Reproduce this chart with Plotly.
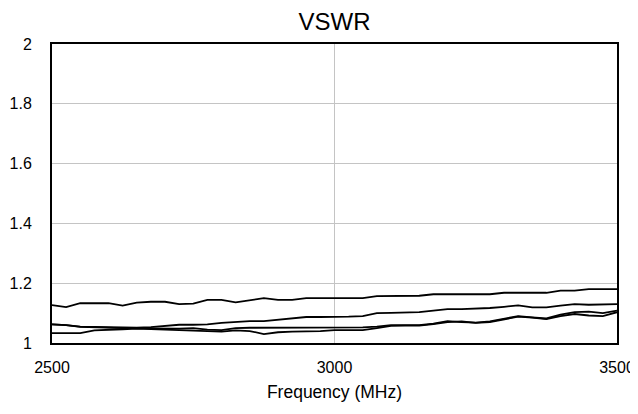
import plotly.graph_objects as go

freq = [2500 + 25 * i for i in range(41)]

vswr_a = [1.127, 1.120, 1.133, 1.133, 1.133, 1.125, 1.135, 1.138, 1.138, 1.130,
          1.132, 1.144, 1.144, 1.136, 1.142, 1.150, 1.144, 1.144, 1.150, 1.150,
          1.150, 1.150, 1.150, 1.157, 1.158, 1.158, 1.158, 1.163, 1.163, 1.163,
          1.163, 1.163, 1.168, 1.168, 1.168, 1.168, 1.175, 1.175, 1.180, 1.180,
          1.180]
vswr_b = [1.062, 1.060, 1.055, 1.054, 1.053, 1.051, 1.051, 1.053, 1.058, 1.061,
          1.061, 1.062, 1.067, 1.071, 1.073, 1.073, 1.077, 1.082, 1.087, 1.087,
          1.087, 1.088, 1.090, 1.100, 1.101, 1.101, 1.103, 1.108, 1.113, 1.113,
          1.114, 1.117, 1.121, 1.126, 1.119, 1.119, 1.125, 1.130, 1.128, 1.130,
          1.130]
vswr_c = [1.062, 1.060, 1.054, 1.052, 1.050, 1.050, 1.049, 1.048, 1.048, 1.048,
          1.050, 1.045, 1.043, 1.050, 1.051, 1.051, 1.051, 1.051, 1.051, 1.051,
          1.052, 1.052, 1.052, 1.055, 1.060, 1.060, 1.060, 1.065, 1.073, 1.070,
          1.068, 1.072, 1.082, 1.090, 1.086, 1.082, 1.095, 1.103, 1.105, 1.100,
          1.108]
vswr_d = [1.033, 1.033, 1.033, 1.042, 1.045, 1.046, 1.048, 1.046, 1.045, 1.043,
          1.040, 1.038, 1.038, 1.042, 1.040, 1.030, 1.036, 1.038, 1.038, 1.040,
          1.043, 1.043, 1.043, 1.050, 1.057, 1.058, 1.058, 1.063, 1.070, 1.072,
          1.067, 1.070, 1.078, 1.088, 1.085, 1.080, 1.090, 1.097, 1.092, 1.090,
          1.103]

x_ticks = [2500, 3000, 3500]
y_ticks = [1, 1.2, 1.4, 1.6, 1.8, 2]
y_labels = ["1", "1.2", "1.4", "1.6", "1.8", "2"]

fig = go.Figure()
for name, vals in [("A", vswr_a), ("B", vswr_b), ("C", vswr_c), ("D", vswr_d)]:
    fig.add_trace(go.Scatter(x=freq, y=vals, mode="lines", name=name,
                             line=dict(color="black", width=1.8),
                             showlegend=False))

W, H = 630, 394
font = "Liberation Sans, Arial, sans-serif"
fig.update_layout(
    width=W, height=H,
    margin=dict(l=44, r=W - 609, t=36, b=H - 335, autoexpand=False),
    paper_bgcolor="white", plot_bgcolor="white",
    font=dict(family=font, size=16, color="black"),
    title=dict(text="VSWR", x=0.5, xref="paper", xanchor="center",
               y=1 - 14 / H, yanchor="middle",
               font=dict(family=font, size=24, color="black")),
    xaxis=dict(range=[2500, 3500], tickvals=x_ticks, showgrid=True,
               gridcolor="#c4c4c4", gridwidth=1, showline=True, linecolor="black",
               linewidth=2, mirror=True, zeroline=False, ticks="",
               ticklabelstandoff=9, automargin=False,
               title=dict(text="Frequency (MHz)", standoff=18,
                          font=dict(family=font, size=17.5))),
    yaxis=dict(range=[1, 2], tickvals=y_ticks, ticktext=y_labels, showgrid=True,
               gridcolor="#c4c4c4", gridwidth=1, showline=True, linecolor="black",
               linewidth=2, mirror=True, zeroline=False, ticks="",
               ticklabelstandoff=15, automargin=False),
)

fig.write_html("out.html")
